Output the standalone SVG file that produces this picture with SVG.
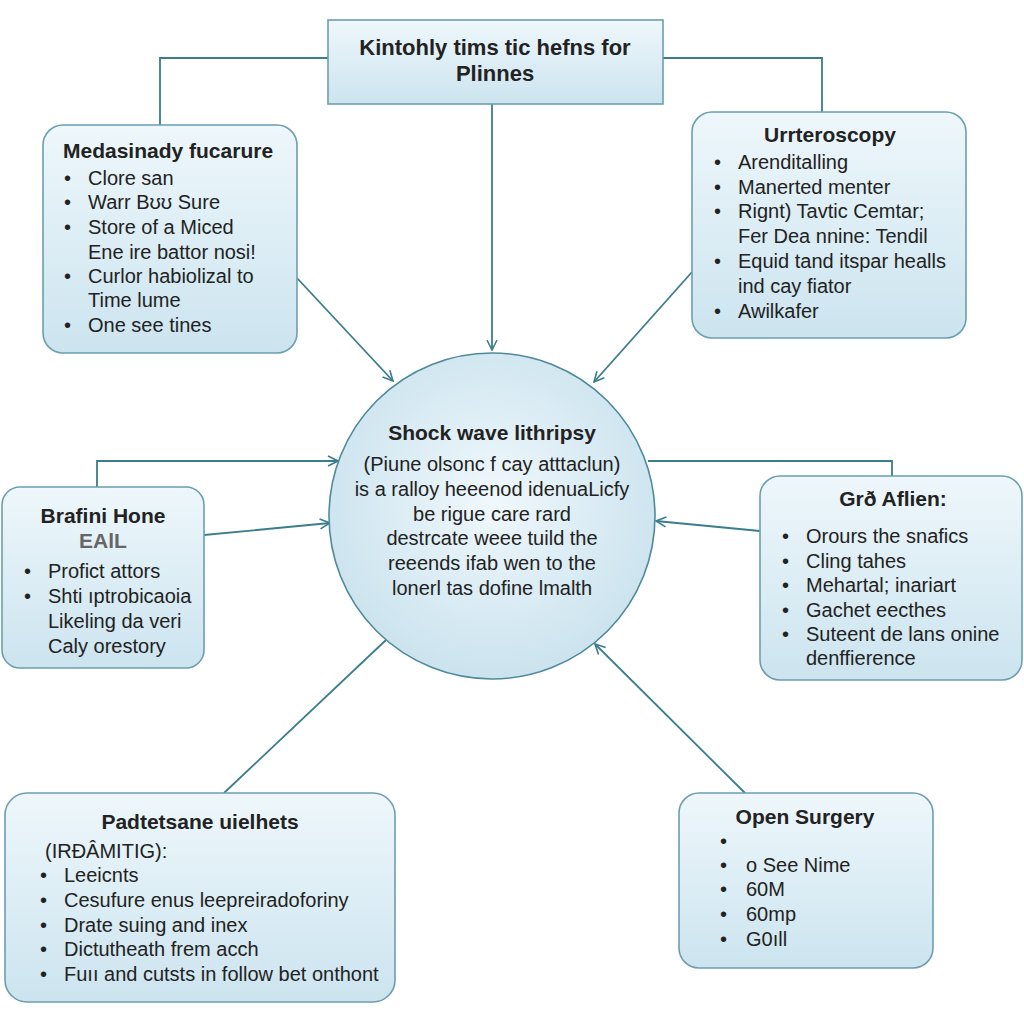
<svg xmlns="http://www.w3.org/2000/svg" width="1024" height="1024" viewBox="0 0 1024 1024">
<defs>
<linearGradient id="boxg" x1="0" y1="0" x2="0" y2="1">
<stop offset="0" stop-color="#eef7fb"/>
<stop offset="1" stop-color="#cce4ef"/>
</linearGradient>
<radialGradient id="circg" cx="0.5" cy="0.45" r="0.55">
<stop offset="0" stop-color="#f0f8fc"/>
<stop offset="1" stop-color="#cbe3ee"/>
</radialGradient>
<marker id="arr" viewBox="0 0 12 12" refX="11" refY="6" markerWidth="12" markerHeight="12" markerUnits="userSpaceOnUse" orient="auto">
<path d="M1,1 L11,6 L1,11" fill="none" stroke="#3a7d8c" stroke-width="1.6"/>
</marker>
</defs>
<style>
.box{fill:url(#boxg);stroke:#6b9fb0;stroke-width:1.6}
.conn{fill:none;stroke:#3a7d8c;stroke-width:1.8}
text{font-family:"Liberation Sans",Arial,sans-serif;font-size:20px;fill:#222}
.t{font-weight:bold;font-size:21px}
.c{text-anchor:middle}
</style>
<rect width="1024" height="1024" fill="#ffffff"/>

<g id="connectors">
<polyline class="conn" points="328,58 160,58 160,125"/>
<polyline class="conn" points="663,58 822,58 822,112"/>
<line class="conn" x1="492" y1="104" x2="492" y2="350" marker-end="url(#arr)"/>
<line class="conn" x1="297" y1="278" x2="393" y2="381" marker-end="url(#arr)"/>
<line class="conn" x1="692" y1="272" x2="594" y2="382" marker-end="url(#arr)"/>
<polyline class="conn" points="97,487 97,461 338,461" marker-end="url(#arr)"/>
<line class="conn" x1="204" y1="535" x2="330" y2="523" marker-end="url(#arr)"/>
<polyline class="conn" points="648,461 892,461 892,476"/>
<line class="conn" x1="760" y1="531" x2="656" y2="521" marker-end="url(#arr)"/>
<line class="conn" x1="224" y1="793" x2="386" y2="640"/>
<line class="conn" x1="745" y1="793" x2="595" y2="644" marker-end="url(#arr)"/>
</g>

<g id="top">
<rect class="box" x="328" y="20" width="335" height="84"/>
<text class="t c" x="495" y="55" style="font-size:22px">Kintohly tims tic hefns for</text>
<text class="t c" x="495" y="81" style="font-size:22px">Plinnes</text>
</g>

<g id="medasinady">
<rect class="box" x="43" y="125" width="254" height="228" rx="20"/>
<text class="t" x="63" y="158">Medasinady fucarure</text>
<text x="64" y="185">•</text><text x="88" y="185">Clore san</text>
<text x="64" y="209">•</text><text x="88" y="209">Warr Bʊʊ Sure</text>
<text x="64" y="234">•</text><text x="88" y="234">Store of a Miced</text>
<text x="88" y="259">Ene ire battor nosi!</text>
<text x="64" y="283">•</text><text x="88" y="283">Curlor habiolizal to</text>
<text x="88" y="307">Time lume</text>
<text x="64" y="332">•</text><text x="88" y="332">One see tines</text>
</g>

<g id="ureteroscopy">
<rect class="box" x="692" y="112" width="274" height="226" rx="20"/>
<text class="t c" x="830" y="142">Urrteroscopy</text>
<text x="714" y="169">•</text><text x="738" y="169">Arenditalling</text>
<text x="714" y="194">•</text><text x="738" y="194">Manerted menter</text>
<text x="714" y="218">•</text><text x="738" y="218">Rignt) Tavtic Cemtar;</text>
<text x="738" y="243">Fer Dea nnine: Tendil</text>
<text x="714" y="268">•</text><text x="738" y="268">Equid tand itspar healls</text>
<text x="738" y="293">ind cay fiator</text>
<text x="714" y="318">•</text><text x="738" y="318">Awilkafer</text>
</g>

<g id="shockwave">
<circle cx="492" cy="516" r="163" fill="url(#circg)" stroke="#4f8a9a" stroke-width="1.6"/>
<text class="t c" x="492" y="440">Shock wave lithripsy</text>
<text class="c" x="492" y="471">(Piune olsonc f cay atttaclun)</text>
<text class="c" x="492" y="496">is a ralloy heeenod idenuaLicfy</text>
<text class="c" x="492" y="521">be rigue care rard</text>
<text class="c" x="492" y="545">destrcate weee tuild the</text>
<text class="c" x="492" y="570">reeends ifab wen to the</text>
<text class="c" x="492" y="595">lonerl tas dofine lmalth</text>
</g>

<g id="brafini">
<rect class="box" x="2" y="487" width="202" height="181" rx="18"/>
<text class="t c" x="103" y="523">Brafini Hone</text>
<text class="t c" x="103" y="548" style="fill:#666">EAlL</text>
<text x="24" y="578">•</text><text x="48" y="578">Profict attors</text>
<text x="24" y="603">•</text><text x="48" y="603">Shti ıptrobicaoia</text>
<text x="48" y="628">Likeling da veri</text>
<text x="48" y="653">Caly orestory</text>
</g>

<g id="graflien">
<rect class="box" x="760" y="476" width="262" height="204" rx="20"/>
<text class="t c" x="893" y="506">Grð Aflien:</text>
<text x="782" y="543">•</text><text x="806" y="543">Orours the snafics</text>
<text x="782" y="568">•</text><text x="806" y="568">Cling tahes</text>
<text x="782" y="592">•</text><text x="806" y="592">Mehartal; inariart</text>
<text x="782" y="617">•</text><text x="806" y="617">Gachet eecthes</text>
<text x="782" y="641">•</text><text x="806" y="641">Suteent de lans onine</text>
<text x="806" y="665">denffierence</text>
</g>

<g id="padtetsane">
<rect class="box" x="5" y="793" width="390" height="209" rx="22"/>
<text class="t c" x="200" y="829">Padtetsane uielhets</text>
<text x="45" y="858">(IRÐÂMITIG):</text>
<text x="40" y="882">•</text><text x="64" y="882">Leeicnts</text>
<text x="40" y="907">•</text><text x="64" y="907">Cesufure enus leepreiradoforiny</text>
<text x="40" y="932">•</text><text x="64" y="932">Drate suing and inex</text>
<text x="40" y="956">•</text><text x="64" y="956">Dictutheath frem acch</text>
<text x="40" y="981">•</text><text x="64" y="981">Fuıı and cutsts in follow bet onthont</text>
</g>

<g id="opensurgery">
<rect class="box" x="679" y="793" width="254" height="175" rx="20"/>
<text class="t c" x="805" y="824">Open Surgery</text>
<text x="720" y="848">•</text>
<text x="720" y="872">•</text><text x="746" y="872">o See Nime</text>
<text x="720" y="896">•</text><text x="746" y="896">60M</text>
<text x="720" y="921">•</text><text x="746" y="921">60mp</text>
<text x="720" y="946">•</text><text x="746" y="946">G0ıll</text>
</g>
</svg>
